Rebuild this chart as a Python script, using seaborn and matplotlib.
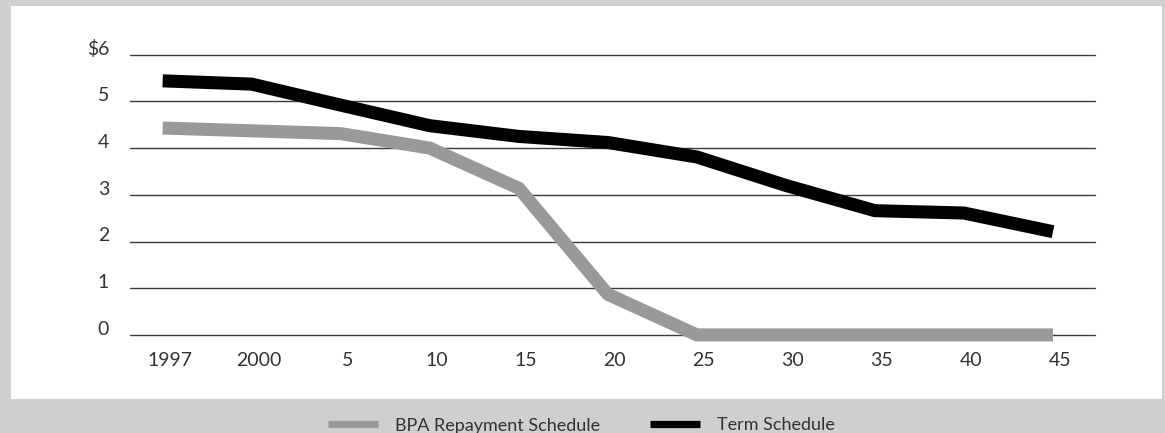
import matplotlib
matplotlib.use("Agg")
import matplotlib.pyplot as plt
from matplotlib.patches import Rectangle
from matplotlib.lines import Line2D
from matplotlib.transforms import ScaledTranslation
import seaborn as sns
import pandas as pd

# Schedule points (categorical x axis: 1997, 2000, then every five years)
years = ["1997", "2000", "5", "10", "15", "20", "25", "30", "35", "40", "45"]
bpa_repayment = [4.43, 4.37, 4.31, 4.00, 3.14, 0.87, 0.0, 0.0, 0.0, 0.0, 0.0]
term_schedule = [5.44, 5.37, 4.92, 4.48, 4.25, 4.12, 3.81, 3.20, 2.66, 2.61, 2.21]
y_ticks = [0, 1, 2, 3, 4, 5, 6]
y_tick_labels = ["0", "1", "2", "3", "4", "5", "$6"]
series_names = ["BPA Repayment Schedule", "Term Schedule"]
series_colors = {"BPA Repayment Schedule": "#999999", "Term Schedule": "#000000"}

pos = list(range(len(years)))
df = pd.DataFrame({
    "pos": pos * 2,
    "value": bpa_repayment + term_schedule,
    "series": [series_names[0]] * len(years) + [series_names[1]] * len(years),
})

sns.set_theme(style="white")
plt.rcParams["font.family"] = ["Lato", "DejaVu Sans"]

W, H = 1165, 433
fig = plt.figure(figsize=(W / 100, H / 100), dpi=100)
fig.patch.set_facecolor("#cfcfcf")

# white panel behind the plot
fig.add_artist(Rectangle((11 / W, 1 - 399 / H), (1162 - 11) / W, (399 - 6) / H,
                         transform=fig.transFigure, facecolor="white",
                         edgecolor="none", zorder=0))

ax = fig.add_axes([130 / W, 1 - 334.9 / H, (1095 - 130) / W, (334.9 - 54.7) / H])
ax.set_facecolor("none")

sns.lineplot(data=df, x="pos", y="value", hue="series", hue_order=series_names,
             palette=series_colors, linewidth=9.4, legend=False, ax=ax,
             sort=False)
for ln in ax.lines:
    ln.set_solid_capstyle("butt")
    ln.set_solid_joinstyle("miter")
    ln.set_clip_on(False)
    ln.set_zorder(3)

ax.set_xlim(-0.367, 10.472)
ax.set_ylim(0, 6)
ax.set_yticks(y_ticks)
ax.set_yticklabels(y_tick_labels)
ax.set_xticks(pos)
ax.set_xticklabels(years)
ax.set_xlabel("")
ax.set_ylabel("")

for y in y_ticks:
    ax.axhline(y, color="#3a3a3a", linewidth=1.0, zorder=1, clip_on=False)

for s in ax.spines.values():
    s.set_visible(False)

ax.tick_params(axis="both", length=0, labelsize=14, colors="#333333")
ax.tick_params(axis="y", pad=15)
ax.tick_params(axis="x", pad=12)
for lbl in ax.get_yticklabels():
    lbl.set_verticalalignment("baseline")
shift = ScaledTranslation(7 / 100, 0, fig.dpi_scale_trans)
for lbl in ax.get_xticklabels():
    lbl.set_transform(lbl.get_transform() + shift)

handles = [Line2D([0], [0], color=series_colors[n], linewidth=5.2,
                  solid_capstyle="butt") for n in series_names]
fig.legend(handles, series_names, loc="center", bbox_to_anchor=(0.499, 1 - 425.5 / H),
           ncol=2, frameon=False, fontsize=13, handlelength=2.78,
           handletextpad=0.9, columnspacing=2.8, labelcolor="#333333")

fig.savefig("out.png", dpi=100, facecolor=fig.get_facecolor())
